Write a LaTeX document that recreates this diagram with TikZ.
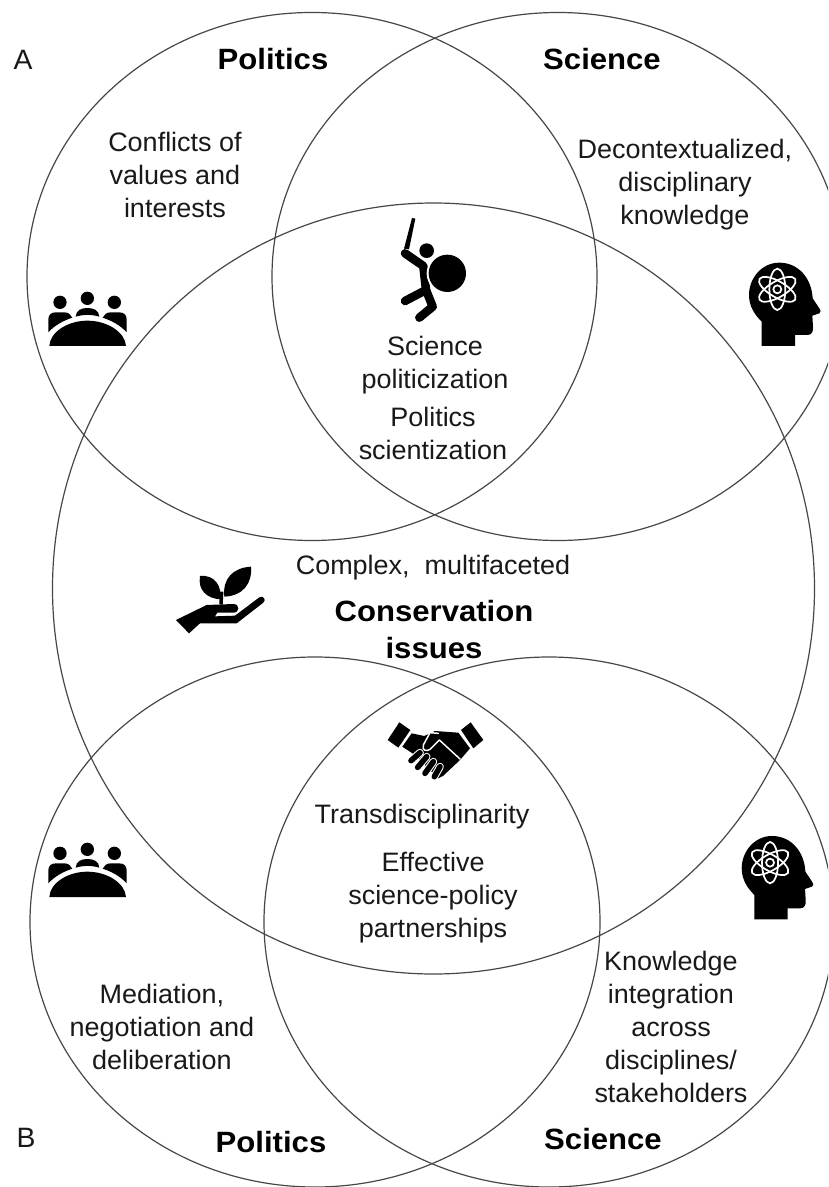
\documentclass[tikz,border=0pt]{standalone}
\usepackage{fontspec}
\setmainfont{Liberation Sans}[FakeStretch=1.012,BoldFeatures={FakeStretch=1.06}]
\tikzset{
  ring/.style={draw=black!72,line width=0.9pt},
  txt/.style={align=center,inner sep=0pt,font=\fontsize{20}{24.75}\selectfont,text=black!90},
  letter/.style={inner sep=0pt,font=\fontsize{21}{25}\selectfont,text=black!90},
  head/.style={align=center,inner sep=0pt,font=\fontsize{22}{27}\selectfont\bfseries,text=black},
  gap/.style={draw=white,line width=1.1pt,line cap=round,line join=round},
  limb/.style={line width=6.4pt,line cap=round,line join=round},
  atom/.style={white,line width=1.3pt},
}
\newcommand{\peopleicon}{%
    \fill (90,67) circle[radius=20]; \fill (172,55) circle[radius=20]; \fill (253,67) circle[radius=20];
    \fill (58,198) .. controls (60,155) and (115,122) .. (172,122) .. controls (230,122) and (285,155) .. (288,198) -- cycle;
    \fill (55,157) -- (55,118) .. controls (55,103) and (65,97) .. (78,97) -- (103,97) .. controls (115,97) and (123,104) .. (127,113) .. controls (100,122) and (75,135) .. (55,157) -- cycle;
    \fill (290,157) -- (290,118) .. controls (290,103) and (280,97) .. (267,97) -- (242,97) .. controls (230,97) and (222,104) .. (218,113) .. controls (245,122) and (270,135) .. (290,157) -- cycle;
    \fill (137,110) .. controls (138,90) and (155,84) .. (172,84) .. controls (190,84) and (207,90) .. (208,110) .. controls (185,103) and (160,103) .. (137,110) -- cycle;
}
\newcommand{\brainicon}{%
    \fill (95,288) -- (195,288) -- (195,255) -- (232,255) .. controls (245,255) and (250,245) .. (249,232) -- (247,197) -- (268,190) .. controls (274,186) and (272,180) .. (268,175) -- (248,145) .. controls (245,85) and (205,38) .. (148,38) .. controls (95,38) and (57,85) .. (57,135) .. controls (57,170) and (75,195) .. (95,215) -- cycle;
    \begin{scope}[shift={(142,118)}]
      \draw[atom] (0,0) circle[radius=12];
      \draw[atom,rotate=30] (0,0) circle[x radius=62,y radius=24];
      \draw[atom,rotate=90] (0,0) circle[x radius=62,y radius=24];
      \draw[atom,rotate=150] (0,0) circle[x radius=62,y radius=24];
    \end{scope}
}
\begin{document}
\begin{tikzpicture}[x=0.75pt,y=-0.75pt]
\useasboundingbox (0,0) rectangle (828,1187);
\clip (0,0) rectangle (828,1187);
\fill[white] (0,0) rectangle (828,1187);
% rings
\draw[ring] (312,276.5) circle[x radius=285,y radius=264];
\draw[ring] (558,276.5) circle[x radius=286,y radius=264];
\draw[ring] (433.5,588.5) circle[x radius=381,y radius=385.5];
\draw[ring] (315,922) circle[x radius=285,y radius=265];
\draw[ring] (549,922) circle[x radius=285,y radius=265];
% icons: people
\begin{scope}[shift={(30,280)},scale=1/3]
  \peopleicon
\end{scope}
\begin{scope}[shift={(30,831)},scale=1/3]
  \peopleicon
\end{scope}
% icons: brain
\begin{scope}[shift={(730,250)},scale=1/3]
  \brainicon
\end{scope}
\begin{scope}[shift={(722.7,823.3)},scale=1/3]
  \brainicon
\end{scope}
% fighter
\begin{scope}[shift={(370,190)},scale=1/3]
  \fill (126,84) -- (136,86) -- (117,178) -- (102,176) -- cycle;
  \draw[limb] (105,190) -- (160,228) -- (168,300) -- (105,333);
  \draw[limb] (168,300) -- (188,350) -- (148,383);
  \fill (170,182) circle[radius=22];
  \fill[white] (232,250) circle[radius=62];
  \fill (232,250) circle[radius=56];
\end{scope}
% plant and hand
\begin{scope}[shift={(165,555)},scale=1/3]
  \fill (105,63) .. controls (150,58) and (172,95) .. (165,133) .. controls (125,130) and (98,105) .. (105,63) -- cycle;
  \fill (258,35) .. controls (205,38) and (172,70) .. (178,125) .. controls (235,122) and (262,85) .. (258,35) -- cycle;
  \draw[line width=2.6pt] (170,110) -- (168,148);
  \fill (33,195) -- (125,150) -- (205,147) .. controls (225,147) and (225,173) .. (205,173) -- (157,173) -- (150,184) -- (210,182) -- (283,127) .. controls (295,120) and (305,135) .. (295,143) -- (215,205) -- (105,205) -- (72,235) -- cycle;
\end{scope}
% handshake
\begin{scope}[shift={(375,710)},scale=1/3]
  \fill (73,37) -- (106,60) -- (70,113) -- (38,90) -- cycle;
  \fill (287,37) -- (325,90) -- (295,115) -- (258,60) -- cycle;
  \fill (110,70) -- (148,78) -- (180,63) -- (250,68) -- (285,115) -- (255,150) -- (205,197) -- (190,205) -- (120,135) -- (82,110) -- cycle;
  \draw[gap] (190,70) -- (165,68) -- (145,105) .. controls (140,122) and (155,125) .. (165,118) -- (193,90) -- (255,147);
  \foreach \ax/\ay/\bx/\by in {135/128/108/152, 155/140/128/172, 175/155/150/190, 195/170/178/200}{
    \draw[white,line width=5.8pt,line cap=round] (\ax,\ay) -- (\bx,\by);
    \draw[line width=4.2pt,line cap=round] (\ax,\ay) -- (\bx,\by);
  }
\end{scope}
% text
\node[letter] (a) at (23,60) {A};
\node[letter] (b) at (26,1138) {B};
\node[head] (p1) at (273,59) {Politics};
\node[head] (s1) at (602,59) {Science};
\node[head] (p2) at (271,1142) {Politics};
\node[head] (s2) at (603,1139) {Science};
\node[txt] (t1) at (175,175) {Conflicts of\\values and\\interests};
\node[txt] (t2) at (685,185) {Decontextualized,\\disciplinary\\knowledge};
\node[txt] (t3) at (435,365) {Science\\politicization};
\node[txt] (t4) at (433,433) {Politics\\scientization};
\node[txt] (t5) at (433,568) {Complex,~ multifaceted};
\node[head,font=\fontsize{22}{27.75}\selectfont\bfseries] (t6) at (434,630) {Conservation\\issues};
\node[txt] (t7) at (422,817) {Transdisciplinarity};
\node[txt] (t8) at (433,898) {Effective\\science-policy\\partnerships};
\node[txt] (t9) at (671,1027) {Knowledge\\integration\\across\\disciplines/\\stakeholders};
\node[txt] (t10) at (162,1027) {Mediation,\\negotiation and\\deliberation};
\end{tikzpicture}
\end{document}
